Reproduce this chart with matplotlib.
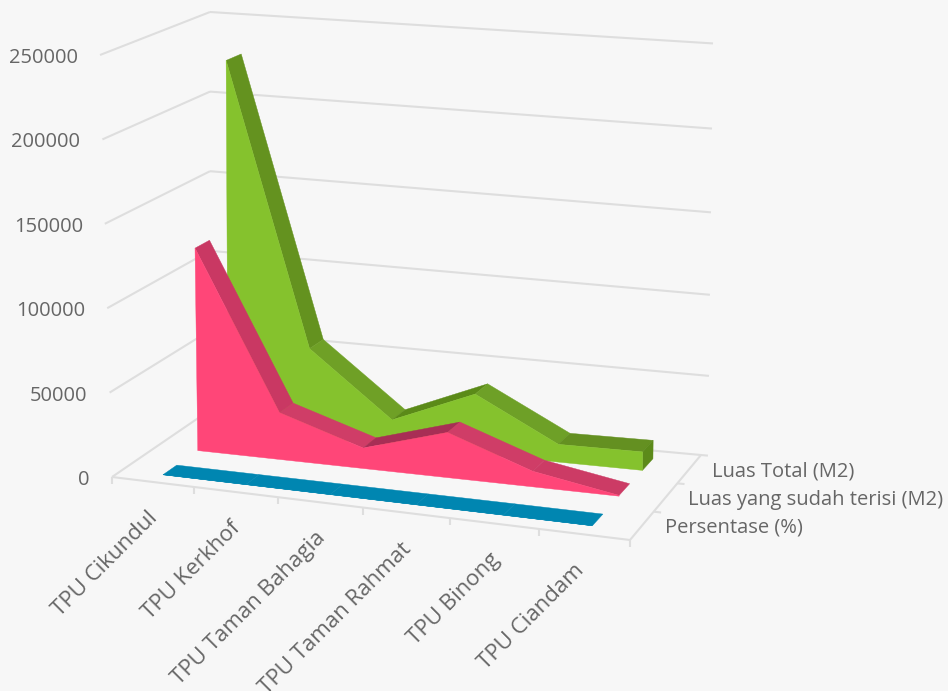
import matplotlib.pyplot as plt
import numpy as np

categories = ["TPU Cikundul", "TPU Kerkhof", "TPU Taman Bahagia", "TPU Taman Rahmat", "TPU Binong", "TPU Ciandam"]
series_names = ["Persentase (%)", "Luas yang sudah terisi (M2)", "Luas Total (M2)"]
persentase = [60, 50, 80, 75, 85, 5]
luas_terisi = [123000, 28500, 12500, 27500, 9500, 500]
luas_total = [228000, 55000, 16000, 37000, 11000, 11500]
y_ticks = [0, 50000, 100000, 150000, 200000, 250000]

BG = "#F7F7F7"
GRID = "#DEDEDE"
TEXT = "#666666"
Y_MAX = 250000
GREEN_TOPS = ["#64921F", "#6FA026", "#5B8A18", "#6EA027", "#649021"]
PINK_TOPS = ["#C93863", "#CF3D67", "#A82E55", "#CF3D67", "#CC3B65"]
BLUE_TOPS = ["#0086B1"] * 5
LABEL_DX = [0, 0, 0, 0, 0, -6]

# box corners in pixels, (u, w) -> bottom and top
BOTTOM = {(0, 0): (112, 477), (1, 0): (630, 540), (0, 1): (210, 410), (1, 1): (701, 455)}
TOP = {(0, 0): (100, 55), (1, 0): (634, 103), (0, 1): (210, 12), (1, 1): (706, 43)}


def project(u, val, w):
    # trilinear map of the chart box, u and t are warped a bit for the perspective
    t = val / Y_MAX
    t = t * (1 - 0.04 * u * (1 - t))
    u = u * (0.94 + 0.05 * w + (0.06 - 0.05 * w) * u)
    pts = []
    for corners in (BOTTOM, TOP):
        p = sum(
            np.array(corners[(a, b)], dtype=float) * (u if a else 1 - u) * (w if b else 1 - w)
            for a in (0, 1)
            for b in (0, 1)
        )
        pts.append(p)
    return pts[0] * (1 - t) + pts[1] * t


def line3(ax, a, b, **kw):
    ax.plot([a[0], b[0]], [a[1], b[1]], color=GRID, lw=1.5, solid_capstyle="butt", zorder=1, **kw)


def draw_area(ax, values, w0, w1, front, tops, cap=None):
    n = len(values)
    us = [(i + 0.5) / n for i in range(n)]
    for i in range(n - 1):
        quad = [
            project(us[i], values[i], w0),
            project(us[i + 1], values[i + 1], w0),
            project(us[i + 1], values[i + 1], w1),
            project(us[i], values[i], w1),
        ]
        ax.fill(*zip(*quad), color=tops[i], lw=0.3, zorder=3)
    if cap:
        quad = [project(us[-1], 0, w0), project(us[-1], values[-1], w0), project(us[-1], values[-1], w1), project(us[-1], 0, w1)]
        ax.fill(*zip(*quad), color=cap, lw=0.3, zorder=3)
    outline = [project(u, v, w0) for u, v in zip(us, values)]
    outline += [project(us[-1], 0, w0), project(us[0], 0, w0)]
    ax.fill(*zip(*outline), color=front, lw=0.3, zorder=3)


plt.rcParams["font.family"] = ["Open Sans", "DejaVu Sans"]
fig = plt.figure(figsize=(9.48, 6.91), dpi=100, facecolor=BG)
ax = fig.add_axes([0, 0, 1, 1])
ax.set_xlim(0, 948)
ax.set_ylim(691, 0)
ax.axis("off")

# walls
for val in y_ticks:
    line3(ax, project(0, val, 0), project(0, val, 1))
    line3(ax, project(0, val, 1), project(1.014, val, 1))
    p = project(0, val, 0)
    ax.text(p[0] - 22, p[1] + 3, str(val), ha="right", va="center", fontsize=14.5, color=TEXT)

# floor
line3(ax, project(0, 0, 0), project(1, 0, 0))
line3(ax, project(1, 0, 0), project(1, 0, 1))
for i in range(len(categories) + 1):
    p = project(i / len(categories), 0, 0)
    line3(ax, p, p + np.array([0, 7]))
for k in (1, 2):
    w = k / len(series_names)
    line3(ax, project(1, 0, w), project(1.014, 0, w))

draw_area(ax, luas_total, 0.77, 0.91, "#85C22D", GREEN_TOPS, cap="#5C8A1A")
draw_area(ax, luas_terisi, 0.46, 0.60, "#FF4678", PINK_TOPS)
draw_area(ax, persentase, 0.105, 0.245, "#0086B1", BLUE_TOPS)

for i, name in enumerate(categories):
    p = project((i + 0.5) / len(categories), 0, 0)
    ax.text(p[0] + 2 + LABEL_DX[i], p[1] + 33, name, rotation=45, rotation_mode="anchor", ha="right", va="center", fontsize=16, color=TEXT, clip_on=True)

for k, name in enumerate(series_names):
    p = project(1, 0, (k + 0.5) / len(series_names))
    ax.text(p[0] + 23, p[1] + 2, name, ha="left", va="center", fontsize=14.5, color=TEXT)

fig.savefig("out.png", dpi=100, facecolor=BG)
